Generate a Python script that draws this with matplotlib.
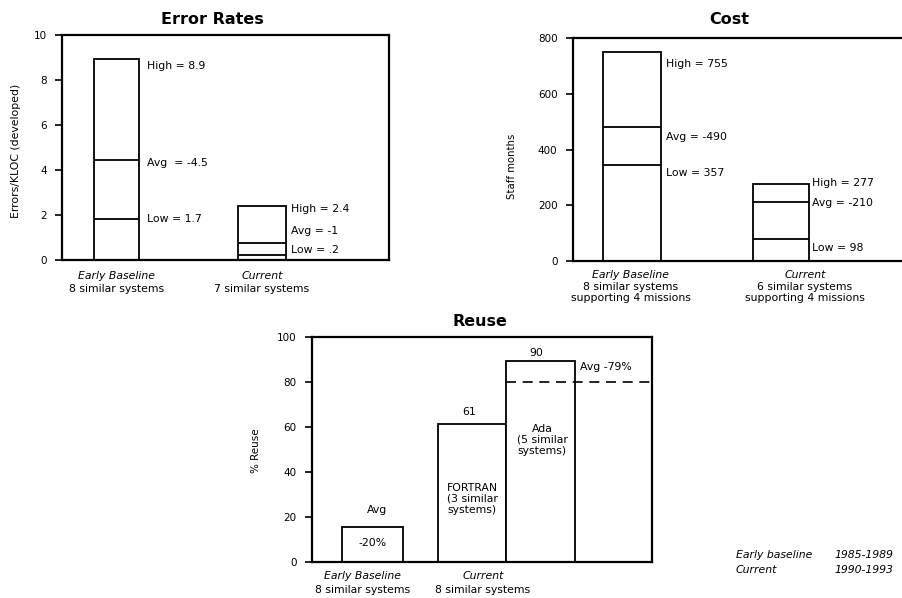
import matplotlib
matplotlib.use("Agg")
import matplotlib.pyplot as plt

plt.rcParams['font.family'] = ['DejaVu Sans']

# ---------------- data ----------------
err_categories = ["Early Baseline", "Current"]
err_sub = ["8 similar systems", "7 similar systems"]
err_high = [8.95, 2.38]
err_avg = [4.45, 0.75]
err_low = [1.8, 0.22]
err_labels = [["High = 8.9", "Avg  = -4.5", "Low = 1.7"],
              ["High = 2.4", "Avg = -1", "Low = .2"]]
err_yticks = [0, 2, 4, 6, 8, 10]

cost_categories = ["Early Baseline", "Current"]
cost_sub = ["8 similar systems\nsupporting 4 missions",
            "6 similar systems\nsupporting 4 missions"]
cost_high = [751, 275]
cost_avg = [480, 213]
cost_low = [344, 78]
cost_labels = [["High = 755", "Avg = -490", "Low = 357"],
               ["High = 277", "Avg = -210", "Low = 98"]]
cost_yticks = [0, 200, 400, 600, 800]

reuse_bars = ["Early Baseline", "FORTRAN", "Ada"]
reuse_values = [15.3, 61, 89.3]
reuse_avg_current = 80
reuse_yticks = [0, 20, 40, 60, 80, 100]

W, H = 903, 598
fig = plt.figure(figsize=(W / 100, H / 100), dpi=100)

FS = 7.8     # annotation / category text size
TFS = 11.5   # title size


def ax_px(left, top, right, bottom):
    return fig.add_axes([left / W, 1 - bottom / H, (right - left) / W, (bottom - top) / H])


def ftext(x, y, s, **kw):
    fig.text(x / W, 1 - y / H, s, **kw)


def style(ax, ymax, yticks, right=True):
    ax.set_ylim(0, ymax)
    ax.set_yticks(yticks)
    ax.set_xticks([])
    for sp in ax.spines.values():
        sp.set_linewidth(1.6)
    ax.spines['right'].set_visible(right)
    ax.tick_params(axis='y', direction='out', length=5, width=1.2, labelsize=7.5, pad=6)


def stacked_bar(ax, left, width, high, avg, low):
    ax.bar(left, high, width=width, align='edge', facecolor='white', edgecolor='black', linewidth=1.3)
    ax.hlines([avg, low], left, left + width, colors='black', linewidth=1.3)


# ---------------- Error Rates ----------------
ax1 = ax_px(62, 35, 389, 259.5)
ax1.set_xlim(0, 327)
style(ax1, 10, err_yticks)
err_left = [32, 176]
err_width = [45, 48]
for i in range(2):
    stacked_bar(ax1, err_left[i], err_width[i], err_high[i], err_avg[i], err_low[i])
ftext(16, 151, "Errors/KLOC (developed)", fontsize=7.8, rotation=90, ha='center', va='center')
ftext(212, 20, "Error Rates", fontsize=TFS, fontweight='bold', ha='center', va='center')
for x, y, s in [(147, 66, err_labels[0][0]), (147, 163, err_labels[0][1]), (147, 219, err_labels[0][2]),
                (291, 209, err_labels[1][0]), (291, 231, err_labels[1][1]), (291, 250, err_labels[1][2])]:
    ftext(x, y, s, fontsize=FS, ha='left', va='center')
for cx, cat, sub in zip([117, 262], err_categories, err_sub):
    ftext(cx, 276, cat, fontsize=FS, style='italic', ha='center', va='center')
    ftext(cx, 289, sub, fontsize=FS, ha='center', va='center')

# ---------------- Cost ----------------
ax2 = ax_px(572.7, 38, 906, 261)
ax2.set_xlim(0, 333.3)
style(ax2, 800, cost_yticks, right=False)
cost_left = [30, 180]
cost_width = [58.3, 56.6]
for i in range(2):
    stacked_bar(ax2, cost_left[i], cost_width[i], cost_high[i], cost_avg[i], cost_low[i])
ftext(512, 166, "Staff months", fontsize=7.3, rotation=90, ha='center', va='center')
ftext(729, 20, "Cost", fontsize=TFS, fontweight='bold', ha='center', va='center')
for x, y, s in [(666, 64, cost_labels[0][0]), (666, 137, cost_labels[0][1]), (666, 173, cost_labels[0][2]),
                (812, 183, cost_labels[1][0]), (812, 203, cost_labels[1][1]), (812, 248, cost_labels[1][2])]:
    ftext(x, y, s, fontsize=FS, ha='left', va='center')
for cx, cat, sub in zip([631, 805], cost_categories, cost_sub):
    ftext(cx, 275, cat, fontsize=FS, style='italic', ha='center', va='center')
    ftext(cx, 282, sub, fontsize=FS, ha='center', va='top', linespacing=1.15)

# ---------------- Reuse ----------------
ax3 = ax_px(311.7, 336.7, 652, 561.7)
ax3.set_xlim(0, 340.3)
style(ax3, 100, reuse_yticks)
reuse_left = [30, 126, 194]
reuse_width = [61.6, 68, 69.3]
ax3.bar(reuse_left, reuse_values, width=reuse_width, align='edge', facecolor='white',
        edgecolor='black', linewidth=1.3)
ax3.hlines(reuse_avg_current, reuse_left[2], 340.3, colors='black', linewidth=1.2,
           linestyles=(0, (6, 4)))
ftext(256, 451, "% Reuse", fontsize=7.5, rotation=90, ha='center', va='center')
ftext(480, 321, "Reuse", fontsize=TFS, fontweight='bold', ha='center', va='center')
ftext(377, 510, "Avg", fontsize=FS, ha='center', va='center')
ftext(373, 543, "-20%", fontsize=FS, ha='center', va='center')
ftext(469, 412, "61", fontsize=FS, ha='center', va='center')
ftext(536, 353, "90", fontsize=FS, ha='center', va='center')
ftext(580, 367, "Avg -79%", fontsize=FS, ha='left', va='center')
ftext(472, 483, "FORTRAN\n(3 similar\nsystems)", fontsize=FS, ha='center', va='top',
      linespacing=1.1)
ftext(542, 424, "Ada\n(5 similar\nsystems)", fontsize=FS, ha='center', va='top',
      linespacing=1.1)
ftext(363, 576, "Early Baseline", fontsize=FS, style='italic', ha='center', va='center')
ftext(363, 590, "8 similar systems", fontsize=FS, ha='center', va='center')
ftext(483, 576, "Current", fontsize=FS, style='italic', ha='center', va='center')
ftext(483, 590, "8 similar systems", fontsize=FS, ha='center', va='center')

# footnote
ftext(736, 555, "Early baseline", fontsize=FS, style='italic', ha='left', va='center')
ftext(736, 570, "Current", fontsize=FS, style='italic', ha='left', va='center')
ftext(834, 555, "1985-1989", fontsize=FS, style='italic', ha='left', va='center')
ftext(834, 570, "1990-1993", fontsize=FS, style='italic', ha='left', va='center')

fig.savefig("out.png", dpi=100)
